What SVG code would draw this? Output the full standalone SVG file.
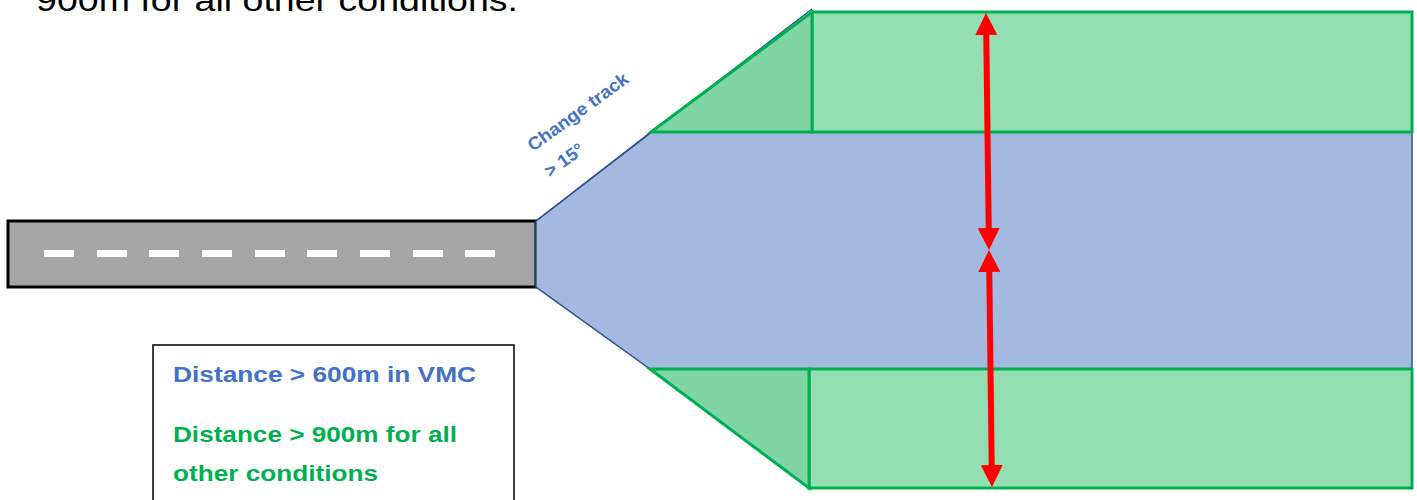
<svg xmlns="http://www.w3.org/2000/svg" width="1417" height="500" viewBox="0 0 1417 500">
<style>
.road{fill:#A5A5A5;stroke:#000;stroke-width:3}
.dash{fill:#fff}
.blue{fill:#A3B9E0;stroke:#2F528F;stroke-width:1.5}
.blueline{fill:none;stroke:#2F528F;stroke-width:1.5}
.grect{fill:#93DFB3;stroke:#00B050;stroke-width:3}
.gtri{fill:#7FD5A4;stroke:#00B050;stroke-width:3;stroke-linejoin:miter}
.arrow{stroke:#FF0000;stroke-width:6;fill:none}
.lbl{font-family:"Liberation Sans",Arial,sans-serif;font-weight:bold}
.box{fill:#fff;stroke:#000;stroke-width:1.5}
</style>
<defs>
<marker id="ah" viewBox="0 0 22 22" refX="10" refY="11" markerWidth="22" markerHeight="22" markerUnits="userSpaceOnUse" orient="auto-start-reverse">
<path d="M0,0 L22,11 L0,22 z" fill="#FF0000"/>
</marker>
</defs>
<g id="title-text">
<text x="36" y="11" font-family="'Liberation Sans',Arial,sans-serif" font-size="32" fill="#000" textLength="482" lengthAdjust="spacingAndGlyphs">900m for all other conditions.</text>
</g>
<g id="runway">
<rect class="road" x="8" y="221" width="528" height="66"/>
<g class="dash">
<rect x="44" y="250" width="30" height="7"/>
<rect x="97" y="250" width="30" height="7"/>
<rect x="149" y="250" width="30" height="7"/>
<rect x="202" y="250" width="30" height="7"/>
<rect x="255" y="250" width="30" height="7"/>
<rect x="307" y="250" width="30" height="7"/>
<rect x="360" y="250" width="30" height="7"/>
<rect x="413" y="250" width="30" height="7"/>
<rect x="465" y="250" width="30" height="7"/>
</g>
</g>
<g id="zone-blue">
<polygon class="blue" points="536,221 651,132 1412,132 1412,369 650,369 536,287"/>
<line class="blueline" x1="536" y1="221" x2="812" y2="9"/>
</g>
<g id="zone-green-top">
<rect class="grect" x="812" y="12" width="600" height="120"/>
<polygon class="gtri" points="651,132 812,12 812,132"/>
</g>
<g id="zone-green-bottom">
<rect class="grect" x="809" y="369" width="603" height="119"/>
<polygon class="gtri" points="650,369 809,488 809,369"/>
</g>
<g id="connectors">
<line class="arrow" x1="986.15" y1="25" x2="988.85" y2="238" marker-start="url(#ah)" marker-end="url(#ah)"/>
<line class="arrow" x1="989.15" y1="262" x2="991.85" y2="475" marker-start="url(#ah)" marker-end="url(#ah)"/>
</g>
<g id="label-change-track">
<text class="lbl" font-size="18" fill="#4472C4" textLength="120" lengthAdjust="spacingAndGlyphs" transform="translate(533,152) rotate(-36)">Change track</text>
<text class="lbl" font-size="18" fill="#4472C4" textLength="44" lengthAdjust="spacingAndGlyphs" transform="translate(550,178) rotate(-36)">&gt; 15°</text>
</g>
<g id="legend">
<rect class="box" x="153" y="345" width="361" height="170"/>
<text class="lbl" x="173" y="382" font-size="22" fill="#4472C4" textLength="303" lengthAdjust="spacingAndGlyphs">Distance &gt; 600m in VMC</text>
<text class="lbl" x="173" y="442" font-size="22" fill="#00B050" textLength="284" lengthAdjust="spacingAndGlyphs">Distance &gt; 900m for all</text>
<text class="lbl" x="173" y="481" font-size="22" fill="#00B050" textLength="205" lengthAdjust="spacingAndGlyphs">other conditions</text>
</g>
</svg>
